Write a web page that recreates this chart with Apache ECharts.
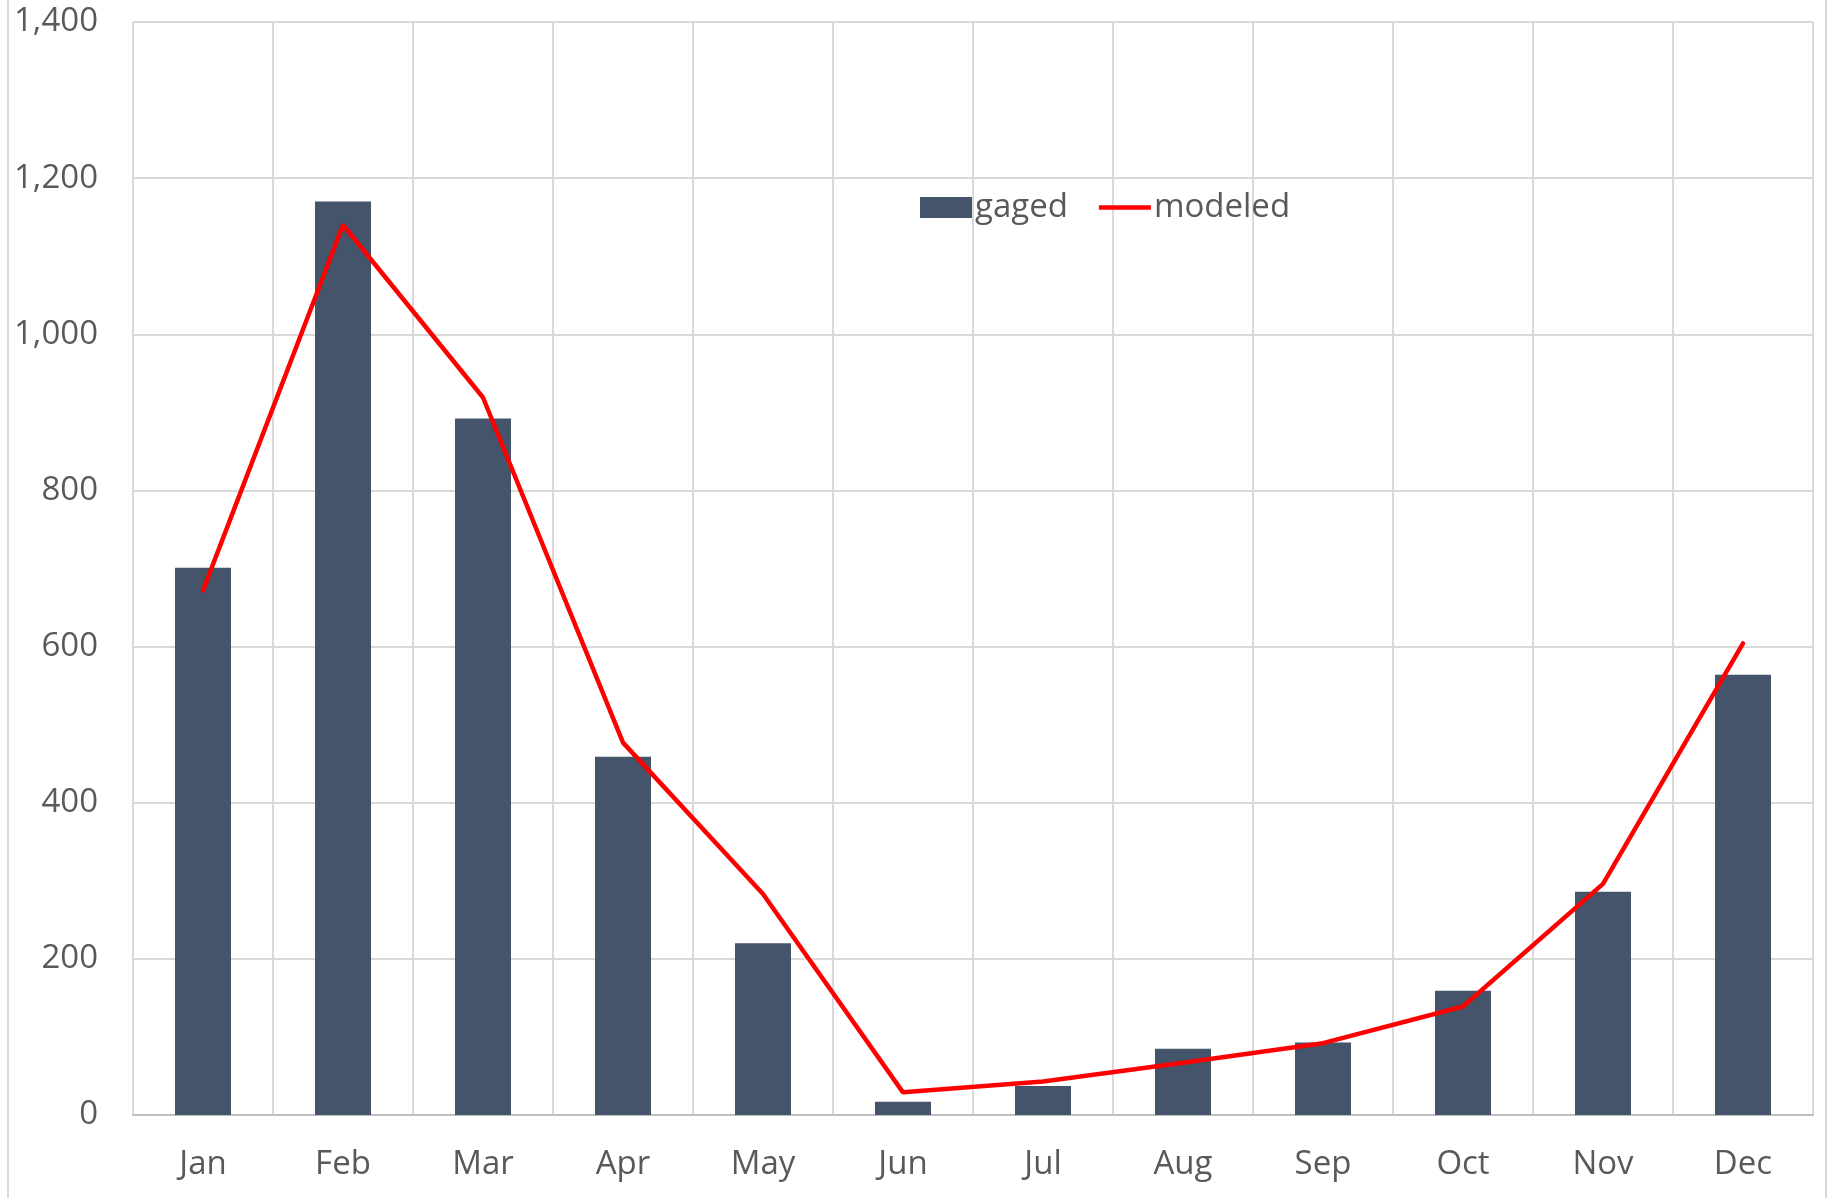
<!DOCTYPE html>
<html lang="en">
<head>
    <meta charset="UTF-8">
    <title>gaged vs modeled</title>
    <style>
        html, body { margin: 0; padding: 0; background: #fff; }
    </style>
</head>
<body>
    <div id="main" style="width:1829px; height:1198px;"></div>
    <script src="https://cdn.jsdelivr.net/npm/echarts@6/dist/echarts.min.js"></script>
    <script>
        // data
        var months = ['Jan', 'Feb', 'Mar', 'Apr', 'May', 'Jun', 'Jul', 'Aug', 'Sep', 'Oct', 'Nov', 'Dec'];
        var gaged = [701, 1170, 892, 459, 220, 17, 37, 85, 93, 159, 286, 564];
        var modeled = [672, 1140, 919, 477, 283, 29, 43, 67, 92, 139, 296, 604];

        var font = 'Open Sans';
        var textColor = '#595959';
        var gridColor = '#d9d9d9';

        var myChart = echarts.init(document.getElementById('main'));
        myChart.setOption({
            animation: false,
            backgroundColor: '#fff',
            textStyle: { fontFamily: font },
            // faint chart frame on left / right
            graphic: [{
                type: 'rect',
                shape: { x: 8, y: -5, width: 1818, height: 1210 },
                style: { fill: 'none', stroke: gridColor, lineWidth: 2 },
                silent: true
            }],
            legend: {
                left: 915,
                top: 186,
                itemWidth: 52,
                itemHeight: 21,
                itemGap: 31,
                textStyle: { fontFamily: font, fontSize: 33, color: textColor, padding: [0, 0, 0, -2] },
                data: [
                    { name: 'gaged', icon: 'rect' },
                    { name: 'modeled', icon: 'path://M0,0L52,0L52,4.5L0,4.5Z' }
                ]
            },
            grid: { left: 133, right: 16, top: 22, bottom: 83 },
            xAxis: {
                type: 'category',
                data: months,
                axisTick: { show: false },
                axisLine: { lineStyle: { color: '#bfbfbf', width: 2 } },
                splitLine: { show: true, lineStyle: { color: gridColor, width: 2 } },
                axisLabel: { fontFamily: font, fontSize: 33, color: textColor, margin: 33 }
            },
            yAxis: {
                type: 'value',
                min: 0,
                max: 1400,
                interval: 200,
                axisLine: { show: false },
                axisTick: { show: false },
                splitLine: { lineStyle: { color: gridColor, width: 2 } },
                axisLabel: {
                    fontFamily: font, fontSize: 33, color: textColor, margin: 35,
                    formatter: function (v) { return v.toLocaleString('en-US'); }
                }
            },
            series: [
                {
                    name: 'gaged',
                    type: 'bar',
                    data: gaged,
                    barWidth: 56,
                    itemStyle: { color: '#44546a' }
                },
                {
                    name: 'modeled',
                    type: 'line',
                    data: modeled,
                    symbol: 'none',
                    lineStyle: { color: '#ff0000', width: 4.5, cap: 'round' },
                    itemStyle: { color: '#ff0000' }
                }
            ]
        });
    </script>
</body>
</html>
